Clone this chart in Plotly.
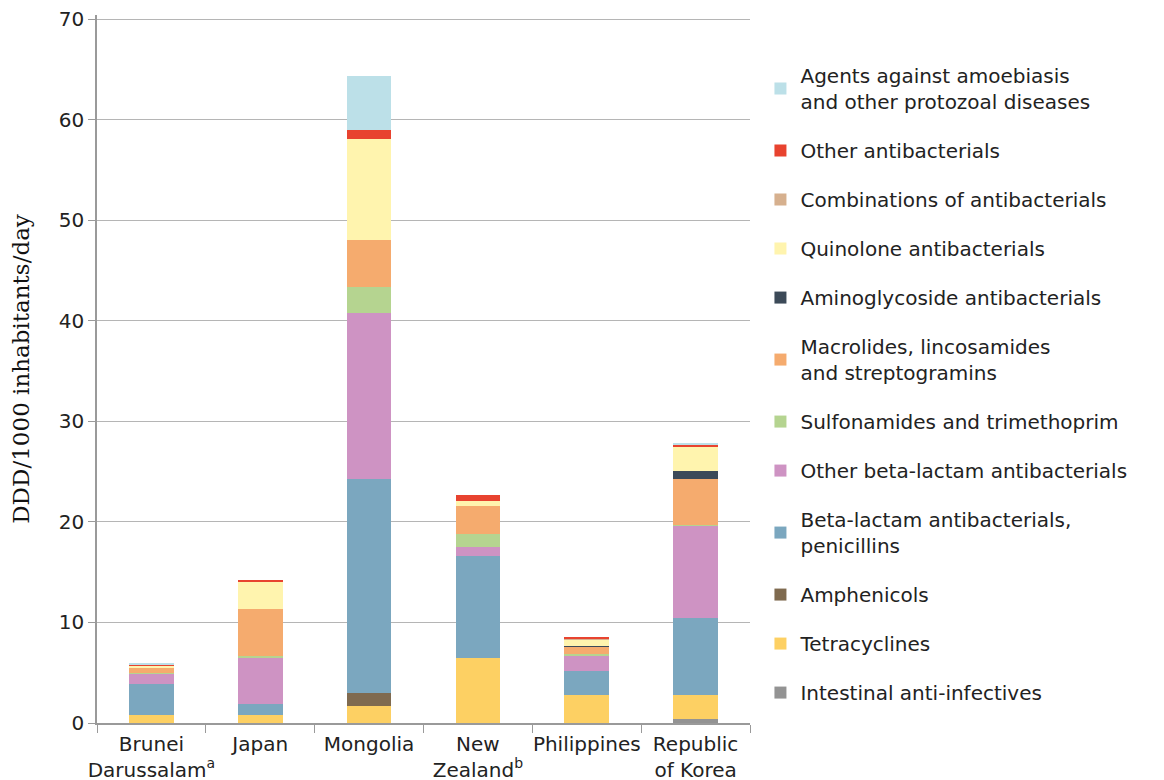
import plotly.graph_objects as go

countries = ["Brunei<br>Darussalam<sup>a</sup>", "Japan", "Mongolia",
             "New<br>Zealand<sup>b</sup>", "Philippines", "Republic<br>of Korea"]

intestinal = [0, 0, 0, 0, 0, 0.43]
tetracyclines = [0.77, 0.8, 1.69, 6.5, 2.8, 2.35]
amphenicols = [0, 0, 1.26, 0, 0, 0]
penicillins = [3.13, 1.1, 21.35, 10.07, 2.4, 7.7]
other_beta = [1.07, 4.6, 16.5, 0.93, 1.5, 9.2]
sulfonamides = [0.05, 0.2, 2.6, 1.3, 0.2, 0.05]
macrolides = [0.4, 4.6, 4.6, 2.75, 0.73, 4.55]
aminoglycosides = [0, 0, 0, 0, 0.03, 0.73]
quinolones = [0.3, 2.75, 10.08, 0.52, 0.65, 2.5]
combinations = [0, 0, 0, 0, 0.02, 0.03]
other_antibacterials = [0.05, 0.15, 0.9, 0.6, 0.2, 0.1]
amoebiasis = [0.2, 0, 5.32, 0, 0, 0.2]

series = [
    ("Intestinal anti-infectives", intestinal, "#939393"),
    ("Tetracyclines", tetracyclines, "#FDD063"),
    ("Amphenicols", amphenicols, "#7F6A4F"),
    ("Beta-lactam antibacterials,<br>penicillins", penicillins, "#7BA7BF"),
    ("Other beta-lactam antibacterials", other_beta, "#CE93C3"),
    ("Sulfonamides and trimethoprim", sulfonamides, "#B5D490"),
    ("Macrolides, lincosamides<br>and streptogramins", macrolides, "#F5AB6E"),
    ("Aminoglycoside antibacterials", aminoglycosides, "#3C4A58"),
    ("Quinolone antibacterials", quinolones, "#FFF4AE"),
    ("Combinations of antibacterials", combinations, "#D6B08E"),
    ("Other antibacterials", other_antibacterials, "#E8432F"),
    ("Agents against amoebiasis<br>and other protozoal diseases", amoebiasis, "#BCE0E8"),
]

fig = go.Figure()
n = len(series)
for i, (name, vals, color) in enumerate(series):
    fig.add_trace(go.Bar(
        x=countries, y=vals, name=name, legendgroup=f"g{i}",
        legendrank=n - i,
        marker=dict(color=color, line=dict(width=0)), width=0.41,
    ))

font_main = "DejaVu Sans"
fig.update_layout(
    width=1164, height=780,
    barmode="stack",
    plot_bgcolor="white", paper_bgcolor="white",
    margin=dict(l=89, r=422, t=7, b=65, autoexpand=False),
    font=dict(family=font_main, size=20, color="#222222"),
    legend=dict(
        x=1.016, y=0.942, xanchor="left", yanchor="top",
        traceorder="grouped", tracegroupgap=20,
        font=dict(size=20, color="#222222"),
        itemwidth=30,
    ),
)
fig.update_xaxes(
    showline=True, linecolor="#9a9a9a", linewidth=1.5,
    ticks="outside", tickson="boundaries", ticklen=8, tickcolor="#9a9a9a",
    tickfont=dict(size=20, color="#222222"), tickangle=0,
    ticklabelstandoff=2,
)
fig.update_yaxes(
    range=[0, 70.4], tickmode="linear", tick0=0, dtick=10,
    showgrid=True, gridcolor="#b5b5b5", gridwidth=1.2,
    showline=True, linecolor="#9a9a9a", linewidth=1.5,
    ticks="outside", ticklen=7, tickcolor="#9a9a9a",
    tickfont=dict(size=20, color="#222222"), ticklabeloverflow="allow",
    zeroline=False,
    title=dict(text="DDD/1000 inhabitants/day",
               font=dict(family="DejaVu Serif", size=23, color="#111111"),
               standoff=26),
)
fig.write_html("out.html")
